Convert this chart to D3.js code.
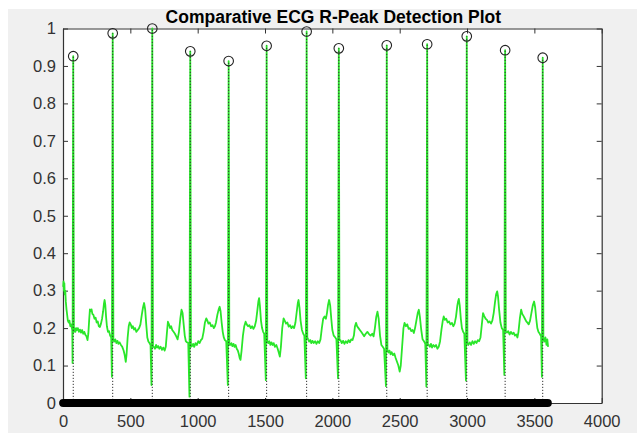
<!DOCTYPE html>
<meta charset="utf-8">
<script src="https://d3js.org/d3.v7.min.js"></script>
<style>
  body { margin: 0; background: #fff; }
  text { font-family: "Liberation Sans", Arial, sans-serif; }
</style>
<body>
<script>

// sample index / normalised amplitude of the ECG trace
var ecgTrace = [
  [1,0.31],[4,0.325],[7,0.30],[10,0.32],[13,0.29],[17,0.30],[21,0.27],[26,0.25],[31,0.235],[36,0.22],[42,0.215],[48,0.22],[54,0.205],[60,0.21],[66,0.2],[69,0.195],[71,0.107],[76,0.926],[81,0.19],
  [86,0.2],[92,0.19],[98,0.2],[104,0.195],[110,0.2],[118,0.19],[126,0.196],[134,0.188],[142,0.195],[150,0.185],[158,0.19],[166,0.182],[174,0.178],[182,0.168],[188,0.185],[194,0.22],[200,0.25],[206,0.245],[212,0.25],[218,0.238],[226,0.235],[234,0.225],[242,0.228],[250,0.215],[258,0.218],[266,0.205],[274,0.203],[282,0.212],[290,0.225],[298,0.245],[304,0.265],[309,0.275],[314,0.262],[320,0.23],[326,0.205],[334,0.19],[342,0.192],[350,0.18],[358,0.175],[363,0.07],[369,0.987],[374,0.17],
  [380,0.164],[388,0.17],[396,0.16],[404,0.166],[412,0.158],[420,0.162],[430,0.155],[440,0.15],[450,0.14],[458,0.128],[466,0.11],[472,0.13],[480,0.175],[488,0.205],[495,0.215],[503,0.21],[511,0.2],[519,0.205],[527,0.196],[535,0.2],[545,0.19],[555,0.195],[565,0.2],[575,0.21],[585,0.235],[594,0.255],[602,0.267],[610,0.25],[618,0.21],[626,0.175],[634,0.164],[642,0.16],[650,0.155],[657,0.048],[663,1.0],[668,0.15],
  [675,0.15],[683,0.145],[691,0.155],[699,0.148],[707,0.152],[715,0.145],[725,0.15],[735,0.142],[745,0.148],[755,0.14],[763,0.15],[771,0.185],[779,0.217],[787,0.21],[795,0.2],[803,0.205],[811,0.195],[821,0.19],[831,0.185],[841,0.178],[851,0.17],[861,0.19],[871,0.225],[880,0.249],[888,0.24],[896,0.21],[904,0.18],[912,0.165],[920,0.162],[930,0.16],[939,0.017],[945,0.939],[950,0.15],
  [958,0.152],[966,0.158],[974,0.15],[984,0.16],[994,0.155],[1004,0.165],[1014,0.16],[1024,0.168],[1034,0.172],[1044,0.19],[1054,0.215],[1064,0.226],[1072,0.22],[1080,0.212],[1090,0.215],[1100,0.205],[1110,0.208],[1120,0.2],[1128,0.205],[1136,0.215],[1146,0.235],[1156,0.25],[1163,0.257],[1170,0.245],[1178,0.215],[1186,0.19],[1194,0.175],[1202,0.168],[1212,0.165],[1224,0.048],[1230,0.913],[1235,0.155],
  [1242,0.155],[1250,0.16],[1258,0.152],[1266,0.158],[1274,0.15],[1282,0.155],[1290,0.145],[1298,0.14],[1306,0.13],[1312,0.12],[1318,0.115],[1326,0.14],[1336,0.18],[1346,0.205],[1356,0.217],[1364,0.21],[1374,0.205],[1384,0.208],[1394,0.2],[1404,0.205],[1414,0.198],[1424,0.205],[1434,0.22],[1444,0.25],[1451,0.272],[1456,0.28],[1462,0.26],[1470,0.22],[1478,0.2],[1486,0.19],[1494,0.185],[1506,0.061],[1512,0.954],[1517,0.165],
  [1524,0.16],[1532,0.165],[1540,0.155],[1548,0.162],[1556,0.155],[1564,0.16],[1574,0.15],[1584,0.155],[1594,0.145],[1602,0.135],[1610,0.124],[1618,0.15],[1628,0.2],[1638,0.226],[1646,0.22],[1656,0.212],[1666,0.215],[1676,0.204],[1686,0.208],[1696,0.2],[1706,0.205],[1716,0.2],[1726,0.215],[1736,0.245],[1744,0.268],[1749,0.275],[1756,0.255],[1764,0.22],[1774,0.195],[1784,0.185],[1792,0.18],[1803,0.066],[1809,0.992],[1814,0.175],
  [1820,0.17],[1828,0.164],[1836,0.168],[1844,0.16],[1852,0.166],[1862,0.16],[1872,0.165],[1882,0.158],[1892,0.165],[1902,0.16],[1912,0.17],[1922,0.2],[1932,0.225],[1942,0.231],[1952,0.225],[1960,0.24],[1968,0.262],[1976,0.275],[1984,0.26],[1992,0.225],[2000,0.195],[2010,0.18],[2020,0.176],[2030,0.17],[2042,0.066],[2048,0.947],[2053,0.168],
  [2060,0.168],[2070,0.16],[2080,0.166],[2090,0.158],[2100,0.165],[2110,0.16],[2120,0.168],[2130,0.162],[2140,0.17],[2150,0.168],[2160,0.18],[2168,0.205],[2176,0.214],[2184,0.205],[2194,0.2],[2204,0.195],[2214,0.19],[2224,0.185],[2236,0.178],[2248,0.185],[2260,0.19],[2272,0.184],[2284,0.18],[2296,0.185],[2306,0.178],[2316,0.2],[2326,0.23],[2335,0.244],[2344,0.225],[2354,0.18],[2364,0.155],[2374,0.15],[2384,0.145],[2398,0.045],[2404,0.955],[2409,0.14],
  [2416,0.135],[2424,0.14],[2432,0.13],[2440,0.136],[2450,0.128],[2460,0.132],[2470,0.12],[2480,0.11],[2490,0.1],[2500,0.084],[2508,0.1],[2518,0.15],[2528,0.2],[2536,0.214],[2546,0.205],[2556,0.21],[2566,0.198],[2576,0.2],[2586,0.192],[2596,0.195],[2605,0.187],[2614,0.2],[2624,0.22],[2634,0.24],[2642,0.249],[2650,0.23],[2660,0.195],[2670,0.17],[2680,0.165],[2690,0.158],[2698,0.044],[2704,0.958],[2709,0.155],
  [2716,0.155],[2724,0.15],[2732,0.158],[2740,0.148],[2750,0.155],[2760,0.15],[2770,0.155],[2780,0.145],[2790,0.15],[2800,0.165],[2810,0.195],[2820,0.22],[2827,0.231],[2836,0.222],[2846,0.225],[2856,0.215],[2866,0.218],[2877,0.21],[2888,0.214],[2898,0.205],[2908,0.212],[2918,0.23],[2928,0.26],[2934,0.272],[2939,0.278],[2946,0.26],[2954,0.225],[2962,0.2],[2971,0.19],[2980,0.185],[2992,0.06],[2998,0.979],[3003,0.16],
  [3010,0.155],[3020,0.162],[3030,0.155],[3040,0.165],[3050,0.158],[3060,0.165],[3070,0.16],[3080,0.168],[3090,0.165],[3100,0.175],[3110,0.21],[3119,0.24],[3128,0.232],[3138,0.225],[3148,0.222],[3158,0.215],[3168,0.218],[3178,0.212],[3188,0.22],[3198,0.24],[3208,0.27],[3216,0.29],[3224,0.298],[3230,0.285],[3238,0.25],[3248,0.215],[3258,0.2],[3268,0.195],[3277,0.075],[3283,0.942],[3288,0.19],
  [3296,0.188],[3306,0.192],[3316,0.183],[3326,0.19],[3336,0.184],[3346,0.188],[3356,0.18],[3366,0.183],[3374,0.175],[3382,0.19],[3392,0.225],[3402,0.249],[3410,0.238],[3420,0.232],[3430,0.225],[3440,0.218],[3450,0.214],[3458,0.21],[3468,0.22],[3478,0.24],[3488,0.26],[3498,0.271],[3506,0.255],[3514,0.225],[3522,0.2],[3530,0.19],[3540,0.185],[3550,0.178],[3556,0.07],[3562,0.922],[3567,0.17],
  [3574,0.164],[3582,0.175],[3590,0.155],[3596,0.17],[3602,0.15]
]

// detected R peaks
var peakIdx = [76, 369, 663, 945, 1230, 1512, 1809, 2048, 2404, 2704, 2998, 3283, 3562]
var peakVal = [0.926, 0.987, 1.0, 0.939, 0.913, 0.954, 0.992, 0.947, 0.955, 0.958, 0.979, 0.942, 0.922]

// zero-valued stems for every other sample (first and last sample)
var zeroStems = [1, 3600]

var xTicks = [0, 500, 1000, 1500, 2000, 2500, 3000, 3500, 4000]
var yTicks = [0, 0.1, 0.2, 0.3, 0.4, 0.5, 0.6, 0.7, 0.8, 0.9, 1]

var width = 637, height = 433
var mLeft = 63, mRight = 601.7, mTop = 28.5, mBottom = 403

var x = d3.scaleLinear().domain([0, 4000]).range([mLeft, mRight])
var y = d3.scaleLinear().domain([0, 1]).range([mBottom, mTop])

var svg = d3.select("body").append("svg")
    .attr("width", width)
    .attr("height", height)

// figure background (MATLAB grey) and white axes area
svg.append("rect").attr("x", 8).attr("y", 9).attr("width", width - 8).attr("height", height - 9).attr("fill", "#f0f0f0")
svg.append("rect").attr("x", mLeft).attr("y", mTop).attr("width", mRight - mLeft).attr("height", mBottom - mTop).attr("fill", "#fff")

// axes with inward ticks
var fmt = function(d) { return d3.format("~g")(d) }
svg.append("g").attr("transform", "translate(0," + mBottom + ")")
    .call(d3.axisBottom(x).tickValues(xTicks).tickFormat(fmt).tickSizeInner(-5).tickSizeOuter(0).tickPadding(12))
svg.append("g").attr("transform", "translate(" + mLeft + ",0)")
    .call(d3.axisLeft(y).tickValues(yTicks).tickFormat(fmt).tickSizeInner(-5).tickSizeOuter(0).tickPadding(7))
svg.append("g").attr("transform", "translate(0," + mTop + ")")
    .call(d3.axisTop(x).tickValues(xTicks).tickFormat("").tickSizeInner(-5).tickSizeOuter(0))
svg.append("g").attr("transform", "translate(" + mRight + ",0)")
    .call(d3.axisRight(y).tickValues(yTicks).tickFormat("").tickSizeInner(-5).tickSizeOuter(0))

svg.selectAll(".domain").attr("stroke", "#333").attr("stroke-width", 1.2)
svg.selectAll(".tick line").attr("stroke", "#333").attr("stroke-width", 1)
svg.selectAll(".tick text").attr("fill", "#333").style("font-size", "16.5px")
    .style("font-family", "'Liberation Sans', Arial, sans-serif")

// ECG trace
var line = d3.line().x(function(d) { return x(d[0]) }).y(function(d) { return y(d[1]) })
svg.append("path")
    .attr("d", line(ecgTrace))
    .attr("fill", "none")
    .attr("stroke", "#2ae62a")
    .attr("stroke-width", 1.8)
    .attr("stroke-linejoin", "round")

// stems of the detected peaks
var peaks = peakIdx.map(function(d, i) { return { i: d, v: peakVal[i] } })
svg.selectAll(".stem").data(peaks).enter().append("line")
    .attr("class", "stem")
    .attr("x1", function(d) { return x(d.i) }).attr("x2", function(d) { return x(d.i) })
    .attr("y1", y(0)).attr("y2", function(d) { return y(d.v) })
    .attr("stroke", "#333")
    .attr("stroke-width", 1)
    .attr("stroke-dasharray", "1.2 1.8")

svg.selectAll(".mark").data(peaks).enter().append("circle")
    .attr("class", "mark")
    .attr("cx", function(d) { return x(d.i) })
    .attr("cy", function(d) { return y(d.v) })
    .attr("r", 4.8)
    .attr("fill", "none")
    .attr("stroke", "#222")
    .attr("stroke-width", 1.1)

// zero stems drawn as a row of markers -> thick black band
svg.append("line")
    .attr("x1", x(zeroStems[0])).attr("x2", x(zeroStems[1]))
    .attr("y1", y(0)).attr("y2", y(0))
    .attr("stroke", "#000")
    .attr("stroke-width", 8)
    .attr("stroke-linecap", "round")

// title
svg.append("text")
    .attr("x", (mLeft + mRight) / 2 + 1)
    .attr("y", 23)
    .attr("text-anchor", "middle")
    .style("font-size", "17.5px")
    .style("font-weight", "bold")
    .attr("fill", "#000")
    .text("Comparative ECG R-Peak Detection Plot")

</script>
</body>
